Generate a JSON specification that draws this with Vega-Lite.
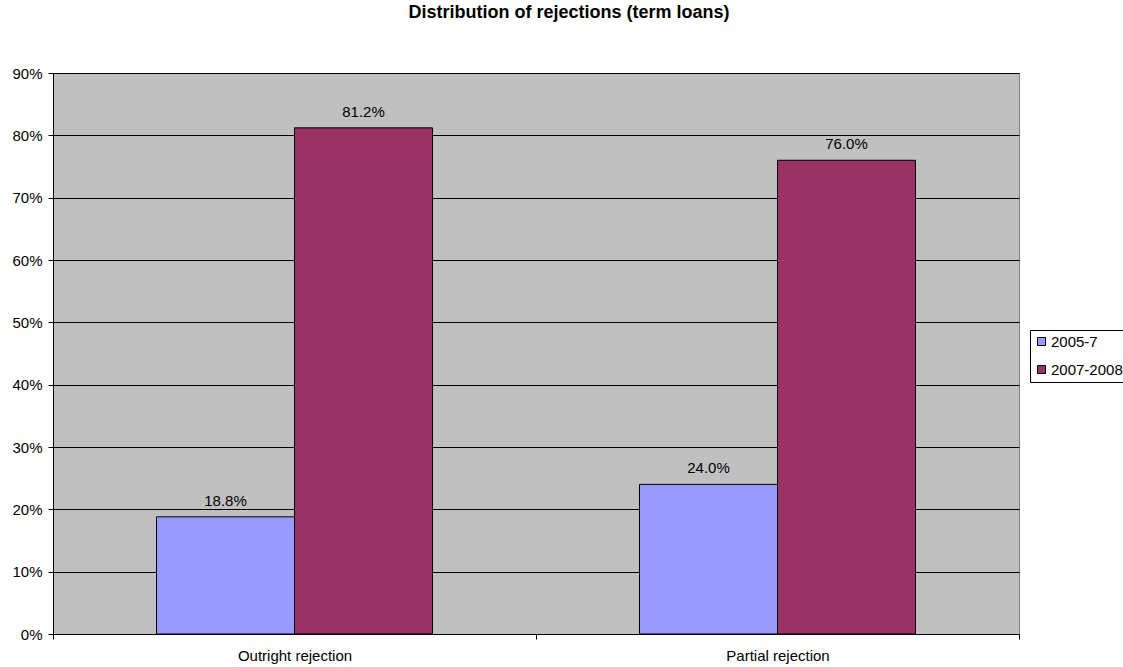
{
  "$schema": "https://vega.github.io/schema/vega-lite/v6.json",
  "width": 966,
  "height": 561,
  "autosize": {"type": "none"},
  "padding": {"left": 53, "top": 73, "right": 104, "bottom": 33},
  "background": "white",
  "title": {
    "text": "Distribution of rejections (term loans)",
    "font": "Liberation Sans",
    "fontSize": 18,
    "fontWeight": "bold",
    "color": "black",
    "anchor": "middle",
    "dx": 33,
    "offset": 44
  },
  "config": {
    "view": {"fill": "#C0C0C0", "stroke": "#808080", "strokeWidth": 1},
    "font": "Liberation Sans"
  },
  "data": {
    "values": [
      {"category": "Outright rejection", "period": "2005-7", "value": 0.188},
      {"category": "Outright rejection", "period": "2007-2008", "value": 0.812},
      {"category": "Partial rejection", "period": "2005-7", "value": 0.24},
      {"category": "Partial rejection", "period": "2007-2008", "value": 0.76}
    ]
  },
  "encoding": {
    "x": {
      "field": "category",
      "type": "nominal",
      "scale": {"paddingInner": 0, "paddingOuter": 0},
      "axis": {
        "title": null,
        "labelAngle": 0,
        "labelFontSize": 15,
        "labelColor": "black",
        "labelPadding": 9,
        "tickBand": "extent",
        "domainColor": "black",
        "tickColor": "black",
        "tickSize": 5,
        "grid": false
      }
    },
    "xOffset": {
      "field": "period",
      "type": "nominal",
      "scale": {"paddingOuter": 0.75, "paddingInner": 0}
    },
    "y": {
      "field": "value",
      "type": "quantitative",
      "scale": {"domain": [0, 0.9], "nice": false},
      "axis": {
        "title": null,
        "format": ".0%",
        "values": [0, 0.1, 0.2, 0.3, 0.4, 0.5, 0.6, 0.7, 0.8, 0.9],
        "labelFontSize": 15,
        "labelColor": "black",
        "labelPadding": 6,
        "domainColor": "black",
        "tickColor": "black",
        "tickSize": 5,
        "grid": true,
        "gridColor": "black",
        "gridWidth": 1
      }
    }
  },
  "layer": [
    {
      "mark": {"type": "bar", "stroke": "black", "strokeWidth": 1},
      "encoding": {
        "color": {
          "field": "period",
          "type": "nominal",
          "scale": {"domain": ["2005-7", "2007-2008"], "range": ["#9999FF", "#993366"]},
          "legend": {
            "title": null,
            "orient": "none",
            "legendX": 977,
            "legendY": 257,
            "symbolType": "square",
            "symbolSize": 64,
            "symbolStrokeColor": "black",
            "symbolStrokeWidth": 1,
            "labelFontSize": 15,
            "labelColor": "black",
            "rowPadding": 12,
            "padding": 4,
            "strokeColor": "black",
            "fillColor": "white",
            "labelOffset": 2
          }
        }
      }
    },
    {
      "mark": {"type": "text", "dy": -11, "baseline": "alphabetic", "fontSize": 15, "color": "black"},
      "encoding": {
        "text": {"field": "value", "type": "quantitative", "format": ".1%"}
      }
    }
  ]
}
